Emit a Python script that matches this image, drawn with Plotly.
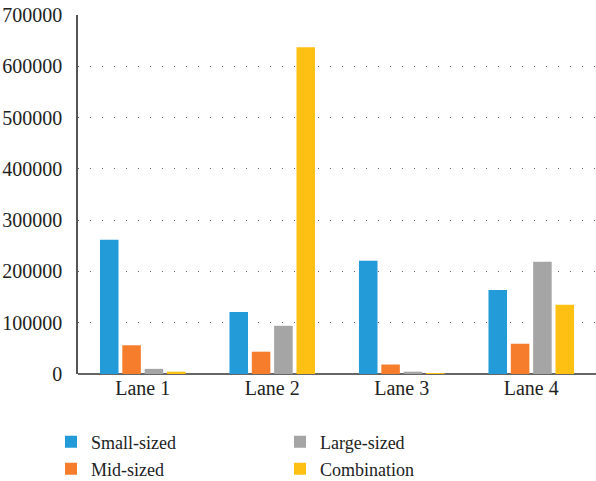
import plotly.graph_objects as go

lanes = ["Lane 1", "Lane 2", "Lane 3", "Lane 4"]
small_sized = [262000, 121000, 221000, 164000]
mid_sized = [56000, 43500, 18500, 59000]
large_sized = [10000, 94000, 4500, 219000]
combination = [4500, 637000, 1200, 135000]

series_names = ["Small-sized", "Mid-sized", "Large-sized", "Combination"]
series_values = [small_sized, mid_sized, large_sized, combination]
colors = ["#229BD8", "#F57D2C", "#A5A5A5", "#FDC013"]
y_ticks = [0, 100000, 200000, 300000, 400000, 500000, 600000, 700000]

# each series gets its own legend box so the key can sit in two columns
legend_ids = ["legend", "legend3", "legend2", "legend4"]

FONT = "Liberation Serif"
W, H = 596, 481
L, R, T, B = 78, 0, 15, 107


def cx(x):
    return x / W


def cy(y):
    return (H - y) / H


fig = go.Figure()
for name, vals, col, lg in zip(series_names, series_values, colors, legend_ids):
    fig.add_trace(go.Bar(x=lanes, y=vals, name=name, marker_color=col,
                         marker_line_width=0, legend=lg))

legend_style = dict(font=dict(family=FONT, size=18, color="#222"),
                    bgcolor="rgba(0,0,0,0)", xanchor="left", yanchor="middle",
                    xref="container", yref="container", itemsizing="constant")
col1_x = cx(51)
col2_x = cx(280)
row1_y = cy(442)
row2_y = cy(469)

fig.update_layout(
    width=W, height=H,
    margin=dict(l=L, r=R, t=T, b=B, autoexpand=False),
    paper_bgcolor="white", plot_bgcolor="white",
    showlegend=True,
    barmode="group", bargap=0.31, bargroupgap=0.17,
    font=dict(family=FONT, size=20, color="#222"),
    legend=dict(x=col1_x, y=row1_y, **legend_style),
    legend3=dict(x=col1_x, y=row2_y, **legend_style),
    legend2=dict(x=col2_x, y=row1_y, **legend_style),
    legend4=dict(x=col2_x, y=row2_y, **legend_style),
    xaxis=dict(showgrid=False, showline=False, ticks="", zeroline=False,
               tickfont=dict(family=FONT, size=20, color="#222")),
    yaxis=dict(range=[0, 700000], tickvals=y_ticks,
               ticktext=[str(v) for v in y_ticks],
               showgrid=True, gridcolor="#666", gridwidth=1,
               griddash="1px,11px",
               showline=True, linecolor="#555", linewidth=1.5,
               zeroline=True, zerolinecolor="#666", zerolinewidth=2,
               ticks="", ticklabelstandoff=10,
               tickfont=dict(family=FONT, size=20, color="#222")),
)

fig.write_html("out.html")
